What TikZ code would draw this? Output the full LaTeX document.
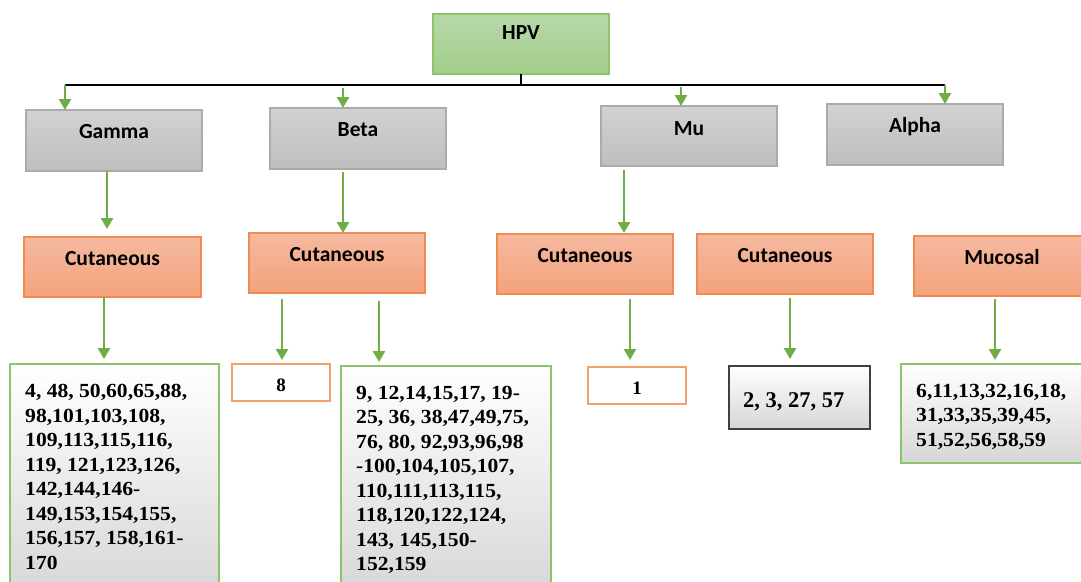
\documentclass[tikz,border=0pt]{standalone}
\usepackage{fontspec}
\usetikzlibrary{arrows.meta,calc}
\newfontfamily\lblfont{Carlito}
\newfontfamily\numfont{Liberation Serif}[FakeStretch=1.08]
\newfontfamily\numplain{Liberation Serif}
\definecolor{arrgreen}{HTML}{70AD47}
\definecolor{hpvtop}{HTML}{B7D8AA}
\definecolor{hpvbot}{HTML}{A2CD8A}
\definecolor{hpvline}{HTML}{8CC46C}
\definecolor{graytop}{HTML}{D2D2D2}
\definecolor{graybot}{HTML}{BEBEBE}
\definecolor{grayline}{HTML}{ABABAB}
\definecolor{orgtop}{HTML}{F5B9A0}
\definecolor{orgbot}{HTML}{F4A27C}
\definecolor{orgline}{HTML}{F08C50}
\definecolor{smallline}{HTML}{F4A06A}
\definecolor{listline}{HTML}{8CC46C}
\definecolor{listbot}{HTML}{D6D6D6}
\definecolor{darkline}{HTML}{404040}
\begin{document}
\begin{tikzpicture}[x=1pt,y=-1pt,
  box/.style={draw, line width=1.3pt, anchor=north west, inner sep=0pt, outer sep=0pt},
  hpvbox/.style={box, draw=hpvline, top color=hpvtop, bottom color=hpvbot},
  graybox/.style={box, draw=grayline, top color=graytop, bottom color=graybot},
  orgbox/.style={box, draw=orgline, top color=orgtop, bottom color=orgbot},
  smallbox/.style={box, draw=smallline, fill=white},
  listbox/.style={box, draw=listline, top color=white, middle color=white, bottom color=listbot},
  darkbox/.style={box, draw=darkline, line width=1.6pt, top color=white, middle color=white, bottom color=listbot},
  lbl/.style={font=\lblfont\bfseries\fontsize{21.5}{25}\selectfont, inner sep=0pt, anchor=base},
  numtxt/.style={font=\numfont\bfseries\fontsize{20}{24.5}\selectfont, align=left, inner sep=0pt, anchor=base west},
  smalltxt/.style={font=\numplain\bfseries\fontsize{19}{22}\selectfont, inner sep=0pt, anchor=base},
  bigtxt/.style={font=\numplain\bfseries\fontsize{22.5}{26}\selectfont, inner sep=0pt, anchor=base west},
  arr/.style={draw=arrgreen, line width=2.6pt, -{Triangle[width=12pt,length=11pt]}},
  busline/.style={draw=black, line width=1.6pt}
]
\useasboundingbox (0,0) rectangle (1081,581);
\clip (0,0) rectangle (1081,581);

% top
\node[hpvbox, minimum width=176pt, minimum height=60pt] (hpv) at (433,14) {};
\node[lbl] at ([yshift=-25pt]hpv.north) {HPV};

% genera
\node[graybox, minimum width=176pt, minimum height=61pt] (gamma) at (26,110) {};
\node[graybox, minimum width=176pt, minimum height=61pt] (beta) at (270,108) {};
\node[graybox, minimum width=176pt, minimum height=60pt] (mu) at (601,106) {};
\node[graybox, minimum width=176pt, minimum height=61pt] (alpha) at (827,104) {};
\node[lbl] at ([yshift=-28pt]gamma.north) {Gamma};
\node[lbl] at ([yshift=-28pt]beta.north) {Beta};
\node[lbl] at ([yshift=-29pt]mu.north) {Mu};
\node[lbl] at ([yshift=-28pt]alpha.north) {Alpha};

% tropism
\node[orgbox, minimum width=177pt, minimum height=60pt] (cut1) at (24,237) {};
\node[orgbox, minimum width=176pt, minimum height=60pt] (cut2) at (249,233) {};
\node[orgbox, minimum width=176pt, minimum height=60pt] (cut3) at (497,234) {};
\node[orgbox, minimum width=176pt, minimum height=60pt] (cut4) at (697,234) {};
\node[orgbox, minimum width=176pt, minimum height=60pt] (muc) at (914,236) {};
\node[lbl] at ([yshift=-28pt]cut1.north) {Cutaneous};
\node[lbl] at ([yshift=-28pt]cut2.north) {Cutaneous};
\node[lbl] at ([yshift=-28pt]cut3.north) {Cutaneous};
\node[lbl] at ([yshift=-28pt]cut4.north) {Cutaneous};
\node[lbl] at ([yshift=-28pt]muc.north) {Mucosal};

% types
\node[listbox, minimum width=209pt, minimum height=236pt] (list1) at (10,364) {};
\node[smallbox, minimum width=98pt, minimum height=37pt] (eight) at (232,364) {};
\node[listbox, minimum width=210pt, minimum height=234pt] (list2) at (341,366) {};
\node[smallbox, minimum width=98pt, minimum height=37pt] (one) at (588,367) {};
\node[darkbox, minimum width=141pt, minimum height=63pt] (list4) at (729,366) {};
\node[listbox, minimum width=190pt, minimum height=99pt] (list3) at (901,364) {};

\node[smalltxt] at ([yshift=-27pt]eight.north) {8};
\node[smalltxt] at ([yshift=-27pt]one.north) {1};
% anchor base = baseline of the last line
\node[numtxt] at ([shift={(15pt,-205pt)}]list1.north west) {4, 48, 50,60,65,88,\\98,101,103,108,\\109,113,115,116,\\119, 121,123,126,\\142,144,146-\\149,153,154,155,\\156,157, 158,161-\\170};
\node[numtxt] at ([shift={(15pt,-204.5pt)}]list2.north west) {9, 12,14,15,17, 19-\\25, 36, 38,47,49,75,\\76, 80, 92,93,96,98\\-100,104,105,107,\\110,111,113,115,\\118,120,122,124,\\143, 145,150-\\152,159};
\node[bigtxt] at ([shift={(14pt,-41pt)}]list4.north west) {2, 3, 27, 57};
\node[numtxt] at ([shift={(15pt,-82pt)}]list3.north west) {6,11,13,32,16,18,\\31,33,35,39,45,\\51,52,56,58,59};

% bus
\coordinate (busL) at (65,85);
\coordinate (busR) at (945,85);
\draw[busline] (hpv.south) -- (hpv.south |- busL);
\draw[busline] (busL) -- (busR);
\draw[arr] (busL) -- (gamma.north -| busL);
\draw[arr, shorten <=3pt] (busL -| 343,0) -- (beta.north -| 343,0);
\draw[arr, shorten <=2pt] (busL -| 681,0) -- (mu.north -| 681,0);
\draw[arr] (busR) -- (alpha.north -| busR);

% genus to tropism
\draw[arr, shorten >=8pt] (gamma.south -| 107,0) -- (cut1.north -| 107,0);
\draw[arr, shorten <=3pt] (beta.south -| 343,0) -- (cut2.north -| 343,0);
\draw[arr, shorten <=4pt, shorten >=1pt] (mu.south -| 624,0) -- (cut3.north -| 624,0);

% tropism to types
\draw[arr, shorten >=5pt] (cut1.south -| 104,0) -- (list1.north -| 104,0);
\draw[arr, shorten <=6pt, shorten >=4pt] (cut2.south -| 282,0) -- (eight.north -| 282,0);
\draw[arr, shorten <=8pt, shorten >=4pt] (cut2.south -| 379,0) -- (list2.north -| 379,0);
\draw[arr, shorten <=5pt, shorten >=7pt] (cut3.south -| 630,0) -- (one.north -| 630,0);
\draw[arr, shorten <=4pt, shorten >=7pt] (cut4.south -| 790,0) -- (list4.north -| 790,0);
\draw[arr, shorten <=3pt, shorten >=4pt] (muc.south -| 995,0) -- (list3.north -| 995,0);
\end{tikzpicture}
\end{document}
